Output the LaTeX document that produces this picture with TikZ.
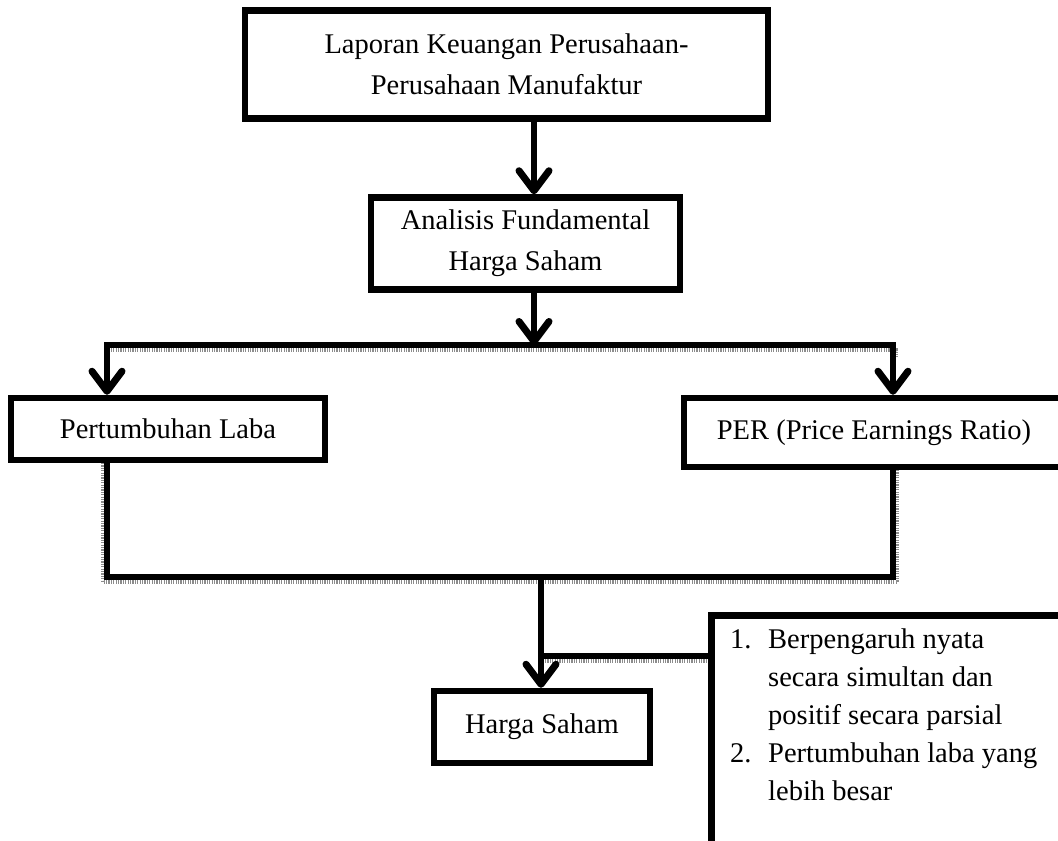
\documentclass[tikz,border=0pt]{standalone}
\usepackage{fontspec}
\setmainfont{Liberation Serif}
\usetikzlibrary{arrows.meta}
\tikzset{
  box/.style={draw=black, line width=6.5pt, fill=white, inner sep=0pt, align=center,
    font=\fontsize{28.5}{41}\selectfont},
  conn/.style={line width=6pt, draw=black, line cap=rect},
  arr/.style={conn, -{Straight Barb[length=20pt,width=30pt,line width=7pt,round]}},
  hatch/.style={line width=3.5pt, draw=black!45, dash pattern=on 1.2pt off 1.2pt},
}
\begin{document}
\begin{tikzpicture}[x=1pt,y=-1pt]
\useasboundingbox (0,0) rectangle (1058,841);
\clip (0,0) rectangle (1058,841);

% boxes
\node[box, minimum width=523pt, minimum height=108pt] (lap) at (506.5,64.5) {Laporan Keuangan Perusahaan-\\Perusahaan Manufaktur};
\node[box, minimum width=309pt, minimum height=92pt] (fa) at (525.5,243.5) {Analisis Fundamental\\Harga Saham};
\node[box, minimum width=314pt, minimum height=62pt] (pl) at (168,429) {Pertumbuhan Laba};
\node[box, minimum width=380pt, minimum height=69pt] (per) at (874,432.5) {PER (Price Earnings Ratio)};
\node[box, minimum width=216pt, minimum height=72pt] (hs) at (542,727) {Harga Saham};
\node[box, minimum width=380pt, minimum height=260pt, anchor=north west] (notes) at (708,612) {};
\node[anchor=north west, inner sep=0pt, align=left, font=\fontsize{28.5}{38}\selectfont] (ntext) at (730,621.5)
  {\begin{tabular}{@{}p{38pt}@{}l@{}}
   1. & Berpengaruh nyata\\
      & secara simultan dan\\
      & positif secara parsial\\
   2. & Pertumbuhan laba yang\\
      & lebih besar
   \end{tabular}};

% coordinates
\coordinate (c1) at (534,0);
\coordinate (sl) at (107,345);
\coordinate (sr) at (893,345);
\coordinate (ml) at (107,577);
\coordinate (mr) at (893,577);
\coordinate (mc) at (541,577);
\coordinate (nc) at (541,656);

% hatching (gray shadows)
\draw[hatch] (106,350) -- (896.5,350) -- (896.5,357);
\draw[hatch] (102.5,463) -- (102.5,582) -- (897.5,582) -- (897.5,470);
\draw[hatch] (545,661) -- (706,661);

% connectors
\draw[arr] (c1 |- lap.south) -- (c1 |- fa.north);
\draw[arr] (c1 |- fa.south) -- (c1 |- sl);
\draw[conn] (sl) -- (sr);
\draw[arr] (sl) -- (sl |- pl.north);
\draw[arr] (sr) -- (sr |- per.north);
\draw[conn] (sl |- pl.south) -- (ml) -- (mr) -- (sr |- per.south);
\draw[arr] (mc) -- (mc |- hs.north);
\draw[conn] (nc) -- (nc -| notes.west);
\end{tikzpicture}
\end{document}
